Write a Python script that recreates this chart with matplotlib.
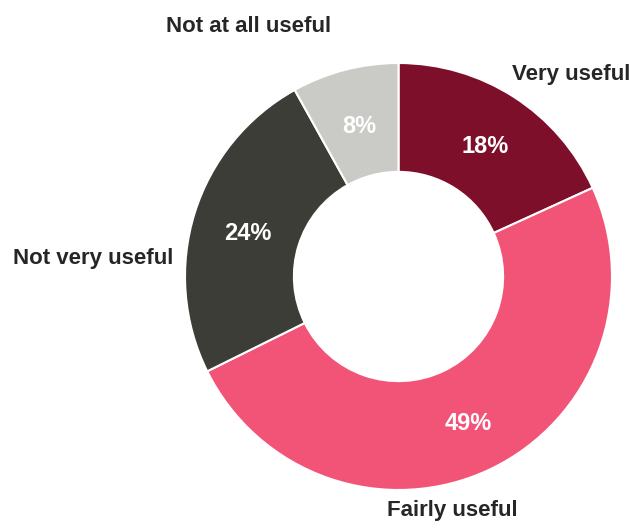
import matplotlib
matplotlib.use("Agg")
import matplotlib.pyplot as plt
import numpy as np

# survey answers, clockwise from 12 o'clock
categories = ['Very useful', 'Fairly useful', 'Not very useful', 'Not at all useful']
shares = [18, 49, 24, 8]
pct_labels = ['18%', '49%', '24%', '8%']
colors = ['#7E0F2B', '#F25478', '#3D3D37', '#CACAC6']

# where the category names sit (data units, radius = 1)
label_pos = [(0.81, 0.945), (0.25, -1.095), (-1.43, 0.085), (-0.70, 1.17)]

plt.rcParams['font.family'] = ['Liberation Sans', 'DejaVu Sans']

fig = plt.figure(figsize=(6.35, 5.22), dpi=100)
ax = fig.add_axes([0, 0, 1, 1])

wedges, texts, autotexts = ax.pie(
    shares, colors=colors, startangle=90, counterclock=False,
    radius=1.0, autopct='%1.0f%%', pctdistance=0.745,
    wedgeprops=dict(width=0.51, edgecolor='white', linewidth=1.5),
)
for t, lab in zip(autotexts, pct_labels):
    t.set_text(lab)
    t.set_color('white')
    t.set_fontsize(17)
    t.set_fontweight('bold')
    x, y = t.get_position()
    t.set_position((x + 0.005, y - 0.018))

for name, (x, y) in zip(categories, label_pos):
    ax.text(x, y, name, ha='center', va='center', fontsize=16,
            fontweight='bold', color='#262626')

ax.set_xlim(-1.8665, 1.1077)
ax.set_ylim(-1.1499, 1.2951)
ax.set_aspect('equal')
ax.axis('off')

fig.savefig('out.png', dpi=100)
